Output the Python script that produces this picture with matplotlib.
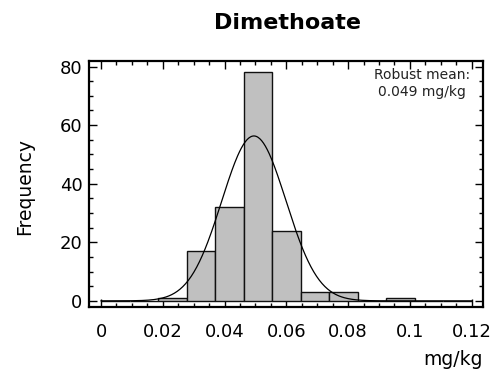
import numpy as np
import matplotlib
matplotlib.use("Agg")
import matplotlib.pyplot as plt
from matplotlib.ticker import MultipleLocator, FuncFormatter

# histogram: 13 equal bins on [0, 0.12]
bin_lo, bin_hi, n_bins = 0.0, 0.12, 13
counts = [0, 0, 1, 17, 32, 78, 24, 3, 3, 0, 1, 0, 0]
# fitted normal curve (robust mean / sd)
fit_mean = 0.0495
fit_sd = 0.0104
robust_mean = 0.049

edges = np.linspace(bin_lo, bin_hi, n_bins + 1)
width = edges[1] - edges[0]
n_total = sum(counts)

plt.rcParams["font.family"] = ["DejaVu Sans"]
fig = plt.figure(figsize=(4.94, 3.76), dpi=100)
ax = fig.add_axes([0.1808, 0.1827, 0.7976, 0.6559])

ax.bar(edges[:-1], counts, width=width, align="edge", color="#c0c0c0",
       edgecolor="#111111", linewidth=1.0, zorder=2)
xs = np.linspace(bin_lo, bin_hi, 400)
pdf = n_total * width * np.exp(-0.5 * ((xs - fit_mean) / fit_sd) ** 2) / (fit_sd * np.sqrt(2 * np.pi))
ax.plot(xs, pdf, color="black", lw=0.9, zorder=3)

ax.set_xlim(-0.0038, 0.1238)
ax.set_ylim(-2.2, 82)
ax.xaxis.set_major_locator(MultipleLocator(0.02))
ax.xaxis.set_minor_locator(MultipleLocator(0.005))
ax.yaxis.set_major_locator(MultipleLocator(20))
ax.yaxis.set_minor_locator(MultipleLocator(5))
ax.xaxis.set_major_formatter(FuncFormatter(lambda v, p: f"{v:g}"))
ax.tick_params(which="both", direction="in", top=True, right=True, width=1.0)
ax.tick_params(which="major", length=6, labelsize=13)
ax.tick_params(which="minor", length=3)
ax.tick_params(axis="x", pad=11)
ax.tick_params(axis="y", pad=5)
for s in ax.spines.values():
    s.set_linewidth(1.6)

ax.text(0.966, 0.97, f"Robust mean:\n{robust_mean:.3f} mg/kg", transform=ax.transAxes,
        ha="right", va="top", fontsize=10, color="#222222", multialignment="center",
        linespacing=1.3)

fig.text(0.581, 0.94, "Dimethoate", ha="center", va="center", fontsize=16, fontweight="bold")
fig.text(0.05, 0.505, "Frequency", rotation=90, ha="center", va="center", fontsize=13.5)
fig.text(0.978, 0.043, "mg/kg", ha="right", va="center", fontsize=13.5)

fig.savefig("out.png", dpi=100)
